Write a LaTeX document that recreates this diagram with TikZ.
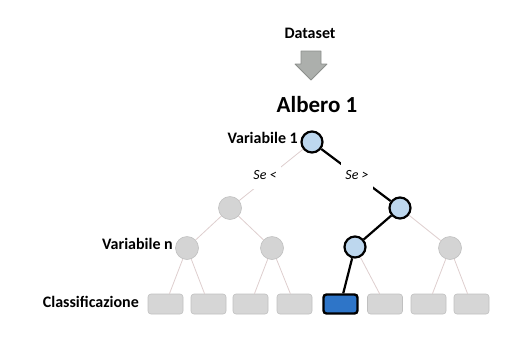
\documentclass[tikz,border=0pt]{standalone}
\usepackage{fontspec}
\setmainfont{Carlito}
\begin{document}
\begin{tikzpicture}[x=1pt,y=-1pt,
  lbl/.style={font=\fontsize{16}{19}\selectfont\bfseries, inner sep=0pt},
  cond/.style={font=\fontsize{14}{17}\selectfont\itshape, fill=white, inner xsep=4pt, inner ysep=9pt},
  gcirc/.style={circle, minimum size=23pt, inner sep=0pt, fill=nodegray, draw=bordergray, line width=0.6pt},
  bcirc/.style={circle, minimum size=21pt, inner sep=0pt, fill=lightblue, draw=black, line width=2.2pt},
  gleaf/.style={rectangle, rounded corners=3pt, minimum width=35pt, minimum height=20pt, inner sep=0pt, fill=leafgray, draw=bordergray, line width=0.6pt},
  bleaf/.style={rectangle, rounded corners=3pt, minimum width=34pt, minimum height=19pt, inner sep=0pt, fill=leafblue, draw=black, line width=2.4pt},
  faint/.style={draw=faintline, line width=0.8pt},
  bold/.style={draw=black, line width=2.2pt}]
\definecolor{nodegray}{RGB}{212,212,212}
\definecolor{leafgray}{RGB}{214,214,214}
\definecolor{bordergray}{RGB}{192,192,192}
\definecolor{lightblue}{RGB}{189,215,238}
\definecolor{leafblue}{RGB}{46,117,200}
\definecolor{faintline}{RGB}{222,206,206}
\definecolor{arrowgray}{RGB}{172,175,172}
\definecolor{arrowborder}{RGB}{140,143,140}
\useasboundingbox (0,0) rectangle (527,341);

% title
\node[lbl] (dataset) at (310,33) {Dataset};
\draw[fill=arrowgray, draw=arrowborder, line width=0.8pt, line join=round]
  (301,51) -- (321,51) -- (321,64) -- (327,64) -- (311,80) -- (295,64) -- (301,64) -- cycle;
\node[font=\fontsize{23}{27}\selectfont\bfseries, inner sep=0pt] (albero) at (317,105) {Albero 1};

% tree nodes
\node[bcirc] (r) at (312,142) {};
\node[gcirc] (l) at (230,208) {};
\node[bcirc] (rr) at (400,208) {};
\node[gcirc] (a) at (187,248) {};
\node[gcirc] (b) at (272,248) {};
\node[bcirc] (c) at (355,247) {};
\node[gcirc] (d) at (450,248) {};

% leaves
\node[gleaf] (f1) at (165.5,304) {};
\node[gleaf] (f2) at (208.5,304) {};
\node[gleaf] (f3) at (250.5,304) {};
\node[gleaf] (f4) at (294.5,304) {};
\node[bleaf] (f5) at (340.5,304) {};
\node[gleaf] (f6) at (385,304) {};
\node[gleaf] (f7) at (428.5,304) {};
\node[gleaf] (f8) at (471.5,304) {};

% edges
\draw[faint] (r) -- (l);
\draw[bold] (r) -- (rr);
\draw[faint] (l) -- (a);
\draw[faint] (l) -- (b);
\draw[bold] (rr) -- (c);
\draw[faint] (rr) -- (d);
\draw[faint] (a) -- (f1);
\draw[faint] (a) -- (f2);
\draw[faint] (b) -- (f3);
\draw[faint] (b) -- (f4);
\draw[bold] (c) -- (f5);
\draw[faint] (c) -- (f6);
\draw[faint] (d) -- (f7);
\draw[faint] (d) -- (f8);

% condition labels
\node[cond] (lt) at (265,175) {Se <};
\node[cond] (gt) at (357,175) {Se >};

% side labels
\node[lbl, anchor=east] (v1) at (298,138) {Variabile 1};
\node[lbl, anchor=east] (vn) at (173,244) {Variabile n};
\node[lbl, anchor=east] (cl) at (139,302) {Classificazione};
\end{tikzpicture}
\end{document}
